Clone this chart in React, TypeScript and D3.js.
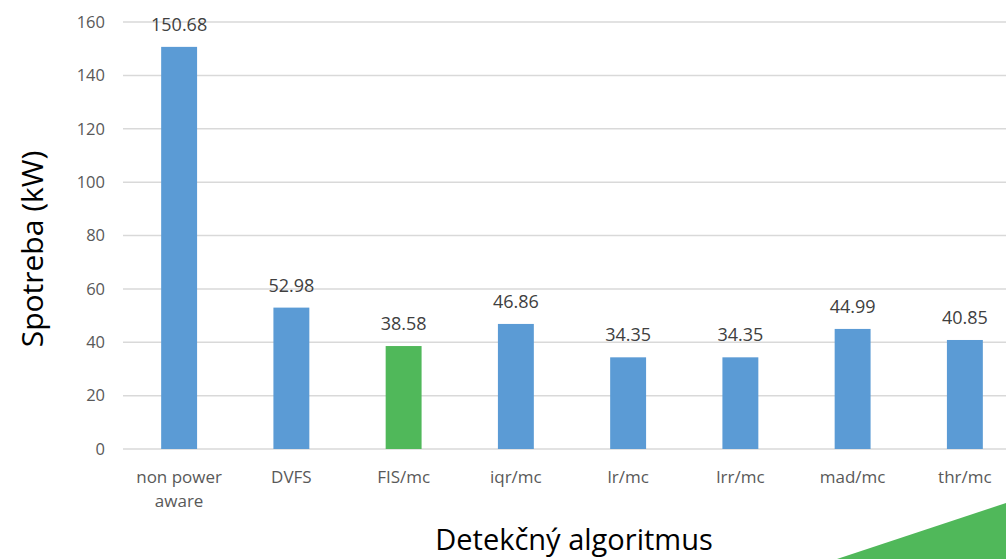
import React from "react";
import * as d3 from "d3";

const categories = ["non power aware", "DVFS", "FIS/mc", "iqr/mc", "lr/mc", "lrr/mc", "mad/mc", "thr/mc"];
const categoryLines = [["non power", "aware"], ["DVFS"], ["FIS/mc"], ["iqr/mc"], ["lr/mc"], ["lrr/mc"], ["mad/mc"], ["thr/mc"]];
const values = [150.68, 52.98, 38.58, 46.86, 34.35, 34.35, 44.99, 40.85];
const valueLabels = ["150.68", "52.98", "38.58", "46.86", "34.35", "34.35", "44.99", "40.85"];
const highlighted = ["FIS/mc"];
const yTicks = [0, 20, 40, 60, 80, 100, 120, 140, 160];

const W = 1006;
const H = 559;
const FONT = "'Open Sans', 'Noto Sans', sans-serif";

export default function App() {
  const x = d3.scaleBand<string>().domain(categories).range([123, 1021]).paddingInner(0.68).paddingOuter(0.34);
  const y = d3.scaleLinear().domain([0, 160]).range([449, 22]);
  const bw = x.bandwidth();
  return (
    <svg width={W} height={H} style={{ position: "absolute", left: 0, top: 0, display: "block" }}>
      <rect x={0} y={0} width={W} height={H} fill="#ffffff" />
      {yTicks.map((t) => (
        <g key={t}>
          <line x1={123} x2={W} y1={y(t)} y2={y(t)} stroke="#d9d9d9" strokeWidth={1.5} />
          <text x={105} y={y(t)} dy="0.35em" textAnchor="end" fontFamily={FONT} fontSize={16.5} fill="#595959">
            {t}
          </text>
        </g>
      ))}
      {categories.map((c, i) => (
        <g key={c}>
          <rect
            x={x(c)!}
            y={y(values[i])}
            width={bw}
            height={y(0) - y(values[i])}
            fill={highlighted.includes(c) ? "#50b85a" : "#5b9bd5"}
          />
          <text x={x(c)! + bw / 2} y={y(values[i]) - 16} textAnchor="middle" fontFamily={FONT} fontSize={18} fill="#404040">
            {valueLabels[i]}
          </text>
          {categoryLines[i].map((ln, k) => (
            <text key={k} x={x(c)! + bw / 2} y={483 + k * 24} textAnchor="middle" fontFamily={FONT} fontSize={17} fill="#595959">
              {ln}
            </text>
          ))}
        </g>
      ))}
      <text
        transform="translate(43,249) rotate(-90)"
        textAnchor="middle"
        fontFamily={FONT}
        fontSize={30}
        fill="#000000"
      >
        Spotreba (kW)
      </text>
      <text x={574} y={550} textAnchor="middle" fontFamily={FONT} fontSize={29} fill="#000000">
        Detekčný algoritmus
      </text>
      <polygon points={`837,${H} ${W},503 ${W},${H}`} fill="#50b85a" />
    </svg>
  );
}
